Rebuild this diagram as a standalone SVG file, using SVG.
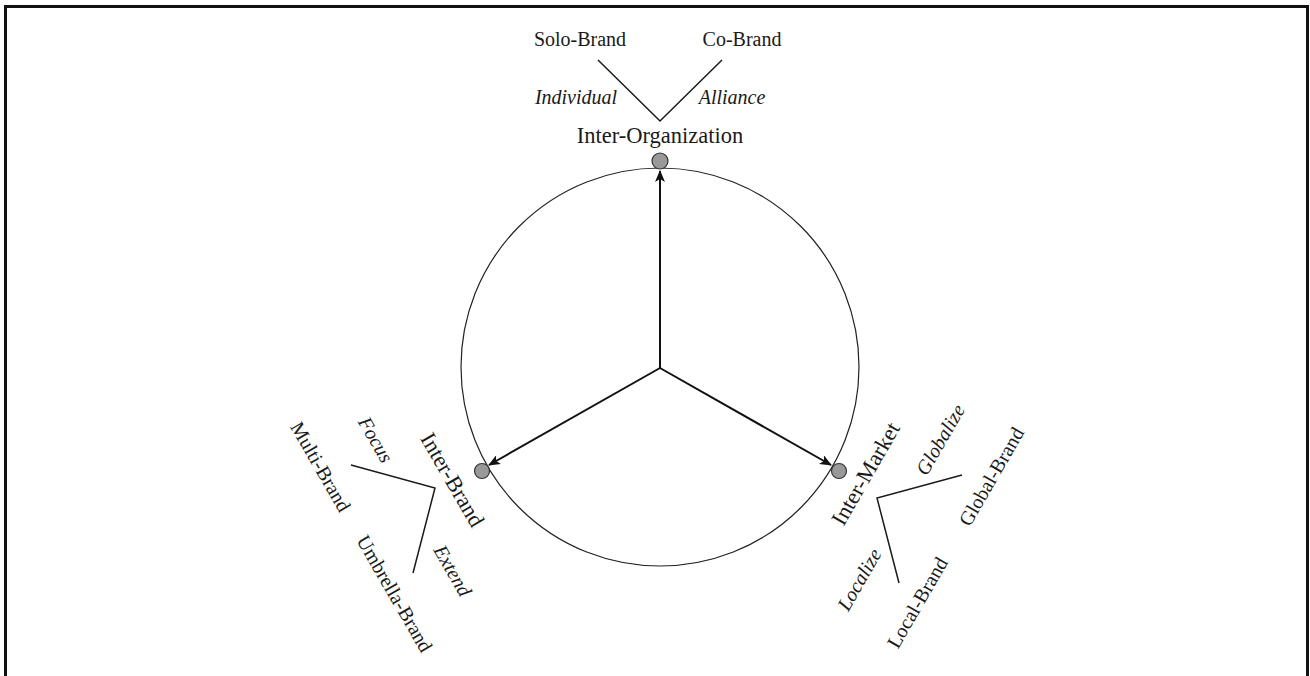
<svg xmlns="http://www.w3.org/2000/svg" width="1310" height="676" viewBox="0 0 1310 676">
<style>
.lbl{font-family:"Liberation Serif","Times New Roman",serif;font-size:20px;fill:#1a1a1a;text-anchor:middle}
.it{font-style:italic}
.main{font-size:22.5px}
.ln{stroke:#1a1a1a;stroke-width:1.5;fill:none}
.arr{stroke:#111;stroke-width:2;fill:none}
.node{fill:#999;stroke:#333;stroke-width:1.2}
</style>
<defs>
<marker id="ah" viewBox="0 0 12 10" refX="11" refY="5" markerWidth="12" markerHeight="10" markerUnits="userSpaceOnUse" orient="auto">
<path d="M0,0 L12,5 L0,10 L3,5 Z" fill="#111"/>
</marker>
</defs>
<rect x="5.5" y="6.5" width="1302" height="690" fill="#fff" stroke="#111" stroke-width="3"/>
<circle cx="660" cy="367" r="199" fill="none" stroke="#222" stroke-width="1.2"/>
<g id="connectors">
<line class="arr" x1="660" y1="368" x2="660" y2="171" marker-end="url(#ah)"/>
<line class="arr" x1="660" y1="368" x2="489" y2="465" marker-end="url(#ah)"/>
<line class="arr" x1="660" y1="368" x2="831" y2="465" marker-end="url(#ah)"/>
</g>
<g id="inter-organization">
<circle class="node" cx="660" cy="161" r="8"/>
<text class="lbl main" x="660" y="143">Inter-Organization</text>
<polyline class="ln" points="598,60 660,121 722,60"/>
<text class="lbl" x="580" y="46">Solo-Brand</text>
<text class="lbl" x="742" y="46">Co-Brand</text>
<text class="lbl it" x="576" y="104">Individual</text>
<text class="lbl it" x="732" y="104">Alliance</text>
</g>
<g id="inter-brand">
<circle class="node" cx="482" cy="471" r="7.5"/>
<text class="lbl main" transform="translate(452,480) rotate(60)" y="7">Inter-Brand</text>
<polyline class="ln" points="351,465 435,488 413,573"/>
<text class="lbl" transform="translate(320,467) rotate(60)" y="6">Multi-Brand</text>
<text class="lbl it" transform="translate(375,440) rotate(60)" y="6">Focus</text>
<text class="lbl" transform="translate(394,594) rotate(60)" y="6">Umbrella-Brand</text>
<text class="lbl it" transform="translate(452,571) rotate(60)" y="6">Extend</text>
</g>
<g id="inter-market">
<circle class="node" cx="839" cy="471" r="7.5"/>
<text class="lbl main" transform="translate(866,474) rotate(-60)" y="7">Inter-Market</text>
<polyline class="ln" points="962,475 877,498 899,583"/>
<text class="lbl it" transform="translate(941,440) rotate(-60)" y="6">Globalize</text>
<text class="lbl" transform="translate(992,477) rotate(-60)" y="6">Global-Brand</text>
<text class="lbl it" transform="translate(860,580) rotate(-60)" y="6">Localize</text>
<text class="lbl" transform="translate(918,603) rotate(-60)" y="6">Local-Brand</text>
</g>
</svg>
